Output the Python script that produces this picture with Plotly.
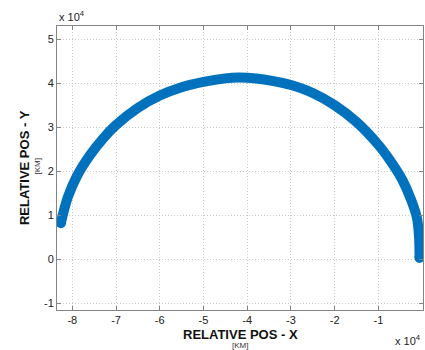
import plotly.graph_objects as go

# Relative position readings (km)
rel_pos_x_km = [-82600, -82200, -81000, -79000, -76000, -73000, -70000, -65000,
                -60000, -55000, -50000, -45000, -42000, -38000, -34000, -30000,
                -25000, -20000, -15000, -10000, -7000, -4500, -2500, -1200,
                -700, -600]
rel_pos_y_km = [8200, 10000, 14200, 18800, 23600, 27400, 30500, 34400,
                37200, 39100, 40300, 41100, 41300, 41100, 40500, 39600,
                37800, 35000, 31200, 26000, 22000, 18000, 13500, 9500,
                5000, 300]

x_ticks = [-8, -7, -6, -5, -4, -3, -2, -1, 0]
y_ticks = [-1, 0, 1, 2, 3, 4, 5]
scale = 1e4

xs = [v / scale for v in rel_pos_x_km]
ys = [v / scale for v in rel_pos_y_km]

blue = "#0072BD"
axis_col = "#848484"
grid_col = "#c8c8c8"
font_fam = "Liberation Sans, Arial, sans-serif"

fig = go.Figure()
fig.add_trace(go.Scatter(
    x=xs, y=ys, mode="lines",
    line=dict(color=blue, width=10, shape="spline", smoothing=1.0),
    showlegend=False, hoverinfo="skip",
))
# rounded ends of the thick path
fig.add_trace(go.Scatter(
    x=[xs[0], xs[-1]], y=[ys[0], ys[-1]], mode="markers",
    marker=dict(color=blue, size=10),
    showlegend=False, hoverinfo="skip",
))

axis_common = dict(
    showline=True, linecolor=axis_col, linewidth=1, mirror="ticks",
    ticks="inside", ticklen=4, tickcolor=axis_col,
    showgrid=True, gridcolor=grid_col, griddash="1px,2px", gridwidth=1,
    zeroline=False, tickfont=dict(family=font_fam, size=11, color="#222"),
)

fig.update_xaxes(range=[-8.35, 0.02], tickvals=x_ticks,
                 ticktext=[str(t) for t in x_ticks], **axis_common)
fig.update_yaxes(range=[-1.15, 5.3], tickvals=y_ticks,
                 ticktext=[str(t) for t in y_ticks], **axis_common)

fig.update_layout(
    width=425, height=350,
    margin=dict(l=57, r=2, t=26, b=40),
    paper_bgcolor="white", plot_bgcolor="white",
    font=dict(family=font_fam, color="#111"),
    annotations=[
        dict(text="<b>RELATIVE POS - X</b>", xref="paper", yref="paper",
             x=0.5, y=-0.052, xanchor="center", yanchor="top", showarrow=False,
             font=dict(size=13, color="#111")),
        dict(text="[KM]", xref="paper", yref="paper",
             x=0.5, y=-0.103, xanchor="center", yanchor="top", showarrow=False,
             font=dict(size=8, color="#333")),
        dict(text="<b>RELATIVE POS - Y</b>", xref="paper", yref="paper",
             x=-0.09, y=0.5, xanchor="center", yanchor="middle", showarrow=False,
             textangle=-90, font=dict(size=13, color="#111")),
        dict(text="[KM]", xref="paper", yref="paper",
             x=-0.052, y=0.505, xanchor="center", yanchor="middle", showarrow=False,
             textangle=-90, font=dict(size=8, color="#333")),
        dict(text="x 10<sup>4</sup>", xref="paper", yref="paper",
             x=0.0, y=1.005, xanchor="left", yanchor="bottom", showarrow=False,
             font=dict(size=11, color="#222")),
        dict(text="x 10<sup>4</sup>", xref="paper", yref="paper",
             x=1.0, y=-0.075, xanchor="right", yanchor="top", showarrow=False,
             font=dict(size=11, color="#222")),
    ],
)

fig.write_html("out.html", config={"displayModeBar": False},
               post_script="document.body.style.margin='0';")
